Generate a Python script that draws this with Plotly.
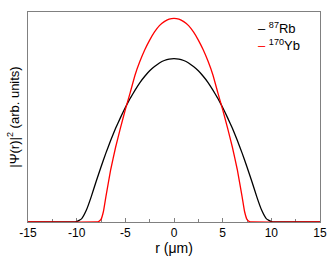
import plotly.graph_objects as go

# radial positions (micrometres) and read-off densities (arb. units)
r_rb = [-15, -10.5, -10, -9.5, -9, -8.5, -8, -7.5, -7, -6.5, -6, -5.5, -5, -4.5, -4, -3.5, -3, -2.5, -2, -1.5, -1, -0.5,
        0, 0.5, 1, 1.5, 2, 2.5, 3, 3.5, 4, 4.5, 5, 5.5, 6, 6.5, 7, 7.5, 8, 8.5, 9, 9.5, 10, 10.5, 15]
rb = [0, 0, 0.002, 0.015, 0.057, 0.121, 0.193, 0.262, 0.328, 0.389, 0.446, 0.497, 0.545, 0.589, 0.628, 0.664, 0.694,
      0.720, 0.740, 0.757, 0.769, 0.776,
      0.778, 0.776, 0.769, 0.757, 0.740, 0.720, 0.694, 0.664, 0.628, 0.589, 0.545, 0.497, 0.446, 0.389, 0.328, 0.262,
      0.193, 0.121, 0.057, 0.015, 0.002, 0, 0]

r_yb = [-15, -8, -7.75, -7.5, -7.25, -7, -6.5, -6, -5.5, -5, -4.5, -4, -3.5, -3, -2.5, -2, -1.5, -1, -0.5,
        0, 0.5, 1, 1.5, 2, 2.5, 3, 3.5, 4, 4.5, 5, 5.5, 6, 6.5, 7, 7.25, 7.5, 7.75, 8, 15]
yb = [0, 0, 0.002, 0.012, 0.050, 0.120, 0.250, 0.356, 0.448, 0.535, 0.616, 0.700, 0.765, 0.820, 0.866, 0.905, 0.935,
      0.954, 0.966,
      0.970, 0.966, 0.954, 0.935, 0.905, 0.866, 0.820, 0.765, 0.700, 0.616, 0.535, 0.448, 0.356, 0.250, 0.120, 0.050,
      0.012, 0.002, 0, 0]

x_ticks = [-15, -10, -5, 0, 5, 10, 15]
x_ticklabels = ["-15", "-10", "-5", "0", "5", "10", "15"]
names = ["<sup>87</sup>Rb", "<sup>170</sup>Yb"]
colors = ["#000000", "#ff0000"]

FONT = "Liberation Sans, Arial, sans-serif"

fig = go.Figure()
fig.add_trace(go.Scatter(x=r_rb, y=rb, mode="lines", name=names[0], cliponaxis=False,
                         line=dict(color=colors[0], width=1.3, shape="spline", smoothing=0.3)))
fig.add_trace(go.Scatter(x=r_yb, y=yb, mode="lines", name=names[1], cliponaxis=False,
                         line=dict(color=colors[1], width=1.3, shape="spline", smoothing=0.3)))

# legend as text entries with short coloured dashes
for i, (nm, c) in enumerate(zip(names, colors)):
    fig.add_annotation(xref="paper", yref="paper", x=0.78, y=0.925 - i * 0.082,
                       xanchor="left", yanchor="middle", showarrow=False,
                       text=f"<span style='color:{c}'>–</span> <span style='color:#000'>{nm}</span>",
                       font=dict(family=FONT, size=13, color="#000"))

fig.update_layout(
    width=332, height=257,
    margin=dict(l=28, r=12, t=12, b=35, autoexpand=False),
    paper_bgcolor="white", plot_bgcolor="white",
    showlegend=False,
    font=dict(family=FONT, size=12, color="#000"),
    xaxis=dict(range=[-15, 15], tickvals=x_ticks, ticktext=x_ticklabels, automargin=False,
               ticks="inside", ticklen=4, tickcolor="#808080", tickwidth=1, layer="below traces",
               minor=dict(dtick=2.5, ticks="inside", ticklen=3, tickcolor="#808080"),
               showline=True, linecolor="#808080", linewidth=1, mirror=True,
               showgrid=False, zeroline=False,
               tickfont=dict(size=12), title=dict(text="r (μm)", font=dict(size=14), standoff=1)),
    yaxis=dict(range=[0, 1], showticklabels=False, ticks="", automargin=False, layer="below traces",
               showline=True, linecolor="#808080", linewidth=1, mirror=True,
               showgrid=False, zeroline=False,
               title=dict(text="|Ψ(r)|<sup>2</sup> (arb. units)", font=dict(size=13), standoff=4)),
)

fig.write_html("out.html", config={"displayModeBar": False},
               post_script="document.body.style.margin='0';document.body.style.padding='0';")
